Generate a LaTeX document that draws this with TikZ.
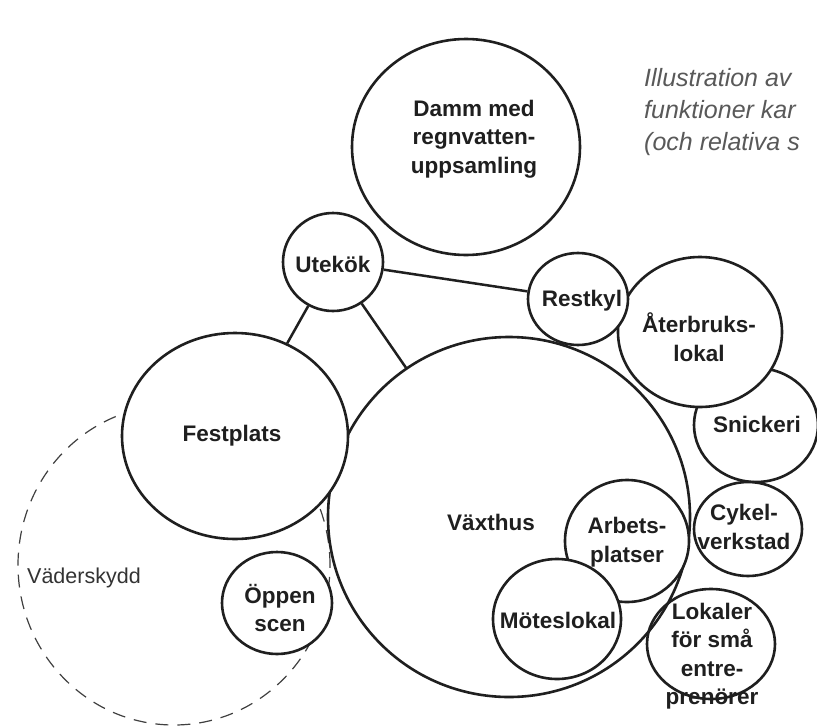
\documentclass[tikz,border=0pt]{standalone}
\usepackage{fontspec}
\setmainfont{Liberation Sans}
\usetikzlibrary{shapes.geometric}
\tikzset{
  bub/.style 2 args={ellipse, draw=black!88, line width=2.6pt, fill=white, inner sep=0pt,
    minimum width=#1pt, minimum height=#2pt},
  ring/.style 2 args={ellipse, draw=black!88, line width=2.6pt, inner sep=0pt,
    minimum width=#1pt, minimum height=#2pt},
  shelter/.style 2 args={ellipse, draw=black!75, line width=1.2pt, dash pattern=on 13pt off 9pt,
    inner sep=0pt, minimum width=#1pt, minimum height=#2pt},
  lbl/.style={font=\bfseries\fontsize{22.5}{28.5}\selectfont, text=black!88, align=center, inner sep=0pt},
  link/.style={draw=black!88, line width=2.5pt},
  note/.style={font=\itshape\fontsize{25}{32}\selectfont, text=black!65, inner sep=0pt, anchor=base west},
}
\begin{document}
\begin{tikzpicture}[x=1pt,y=-1pt]
\useasboundingbox (0,0) rectangle (817,726);
\fill[white] (0,0) rectangle (817,726);
% circles
\node[shelter={312}{320}] (vad) at (174,565) {};
\node[bub={362}{360}] (vaxt) at (509,517) {};
\node[bub={226}{206}] (fest) at (235,436) {};
\node[bub={124}{122}] (arb) at (627,541) {};
\node[bub={128}{120}] (mote) at (557,619) {};
\node[ring={128}{110}] (lok) at (711,644) {};
\node[bub={110}{102}] (oppen) at (277,603) {};
\node[bub={124}{114}] (snick) at (756,425) {};
\node[bub={164}{150}] (ater) at (700,332) {};
\node[bub={100}{92}] (rest) at (578,299) {};
\node[bub={108}{94}] (cykel) at (748,529) {};
\node[bub={100}{98}] (ute) at (333,262) {};
\node[bub={228}{216}] (damm) at (466,147) {};
% connectors
\draw[link] (ute) -- (rest);
\draw[link] (ute) -- (fest);
\draw[link] (ute) -- (vaxt);
% labels
\node[lbl] (tdamm) at (474,139) {Damm med\\regnvatten-\\uppsamling};
\node[lbl] (tute) at (333,264) {Utekök};
\node[lbl] (trest) at (582,301) {Restkyl};
\node[lbl] (tater) at (699,337) {Återbruks-\\lokal};
\node[lbl] (tsnick) at (757,424) {Snickeri};
\node[lbl] (tcykel) at (744,527) {Cykel-\\verkstad};
\node[lbl] (tlok) at (712,656) {Lokaler\\för små\\entre-\\prenörer};
\node[lbl] (tarb) at (627,542) {Arbets-\\platser};
\node[lbl] (tmote) at (558,620) {Möteslokal};
\node[lbl] (tvaxt) at (491,522) {Växthus};
\node[lbl] (tfest) at (232,436) {Festplats};
\node[lbl] (toppen) at (280,608) {Öppen\\scen};
\node[font=\fontsize{21.5}{26}\selectfont, text=black!80, anchor=west, inner sep=0pt] (tvad) at (27,578) {Väderskydd};
\node[note] (ill1) at (644,86) {Illustration av};
\node[note] (ill2) at (644,118) {funktioner kar};
\node[note] (ill3) at (644,150) {(och relativa s};
\end{tikzpicture}
\end{document}
